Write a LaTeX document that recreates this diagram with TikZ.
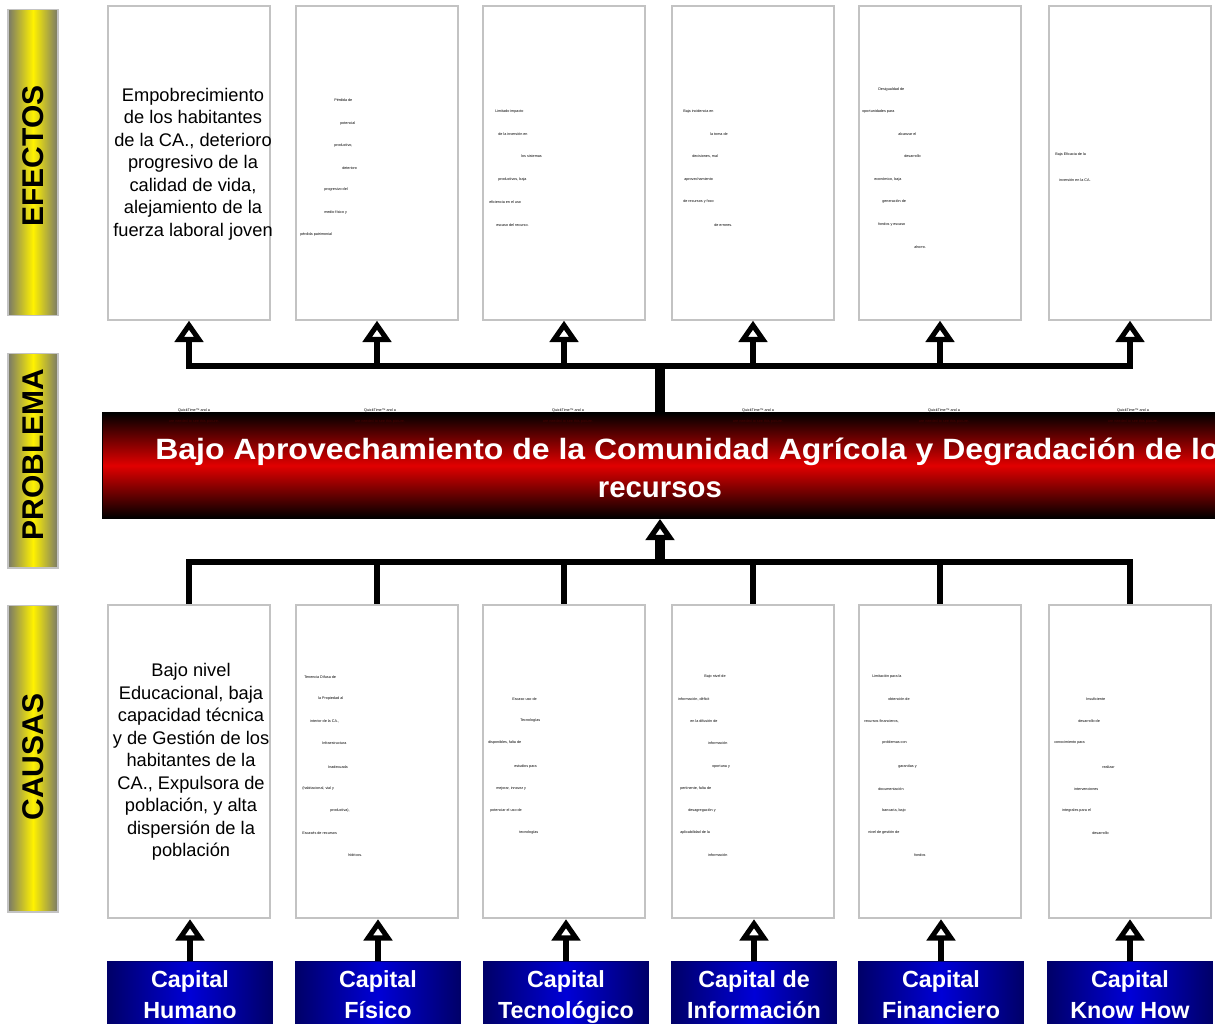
\documentclass[tikz,border=0pt]{standalone}
\usepackage{fontspec}
\setmainfont{Liberation Sans}
\usepackage{graphicx}
\usetikzlibrary{arrows.meta}

\definecolor{boxgray}{RGB}{195,195,195}
\definecolor{bargray}{RGB}{120,120,105}
\definecolor{baryellow}{RGB}{255,242,0}
\definecolor{probred}{RGB}{225,0,0}
\definecolor{qtred}{RGB}{70,0,0}
\definecolor{capblue}{RGB}{0,0,215}
\definecolor{capnavy}{RGB}{0,0,105}

\begin{document}
\begin{tikzpicture}
  [x=0.75pt,y=-0.75pt,
    textbox/.style={draw=boxgray,line width=1.5pt,fill=white,
      minimum width=122pt,minimum height=235pt,inner sep=0pt},
    bigtxt/.style={align=center,inner sep=0pt,font=\fontsize{13.7}{16.9}\selectfont},
    tinytxt/.style={anchor=west,inner sep=0pt,font=\fontsize{2.8}{3}\selectfont},
    sidebar/.style={draw=boxgray,line width=1pt,left color=bargray,right color=bargray,
      middle color=baryellow,minimum width=37.5pt,inner sep=0pt},
    sidetxt/.style={rotate=90,inner sep=0pt,font=\fontsize{22.5}{26}\bfseries\selectfont},
    probbox/.style={draw=black,line width=1pt,top color=black,bottom color=black,
      middle color=probred,minimum width=836pt,minimum height=79pt,inner sep=0pt},
    capbox/.style={draw=capnavy,line width=1pt,left color=capnavy,right color=capnavy,
      middle color=capblue,minimum width=123pt,minimum height=53pt,inner sep=0pt,
      text=white,align=center,font=\fontsize{17.5}{23.2}\bfseries\selectfont,
      execute at end node=\vphantom{g}},
    bar/.style={line width=4.5pt},
    trunk/.style={line width=7pt},
    uparrow/.style={line width=3.8pt,-{Triangle[open,length=16pt,width=21pt]}},
  ]
  \useasboundingbox (0,0) rectangle (1215,1024);
  \clip (0,0) rectangle (1215,1024);

  % side labels
  \node[sidebar,minimum height=229pt] (lblef) at (33,162.5) {};
  \node[sidetxt] (lblef-t) at ([yshift=5pt]lblef.center) {EFECTOS};
  \node[sidebar,minimum height=161pt] (lblprob) at (33,460.5) {};
  \node[sidetxt] (lblprob-t) at ([yshift=4.5pt]lblprob.center) {PROBLEMA};
  \node[sidebar,minimum height=230pt] (lblca) at (33,758.5) {};
  \node[sidetxt] (lblca-t) at ([yshift=1pt]lblca.center) {CAUSAS};

  % effect and cause boxes
  \foreach \x [count=\i] in {189,377,564,753,940,1130} {
    \node[textbox] (ef\i) at (\x,163) {};
    \node[textbox] (ca\i) at (\x,761.5) {};
  }

  % problem band
  \node[probbox] (prob) at (660,465.5) {};
  \node[anchor=west,inner sep=0pt,align=left,text=white,
    font=\fontsize{22}{29}\bfseries\selectfont] (probtxt) at (155,468)
    {\scalebox{1.09}[1]{Bajo Aprovechamiento de la Comunidad Agrícola y Degradación de los}\\
     \hspace*{332pt}recursos};
  \foreach \x [count=\i] in {194,380,568,758,944,1133} {
    \node[inner sep=0pt,font=\fontsize{2.8}{3}\selectfont] (qt\i) at (\x,410.5) {QuickTime™ and a};
    \node[inner sep=0pt,text=qtred,font=\fontsize{2.8}{3}\selectfont] (qtb\i) at (\x,422) {are needed to see this picture.};
  }

  % capital boxes
  \node[capbox] (cap1) at (190,997) {Capital\\Humano};
  \node[capbox] (cap2) at (378,997) {Capital\\Físico};
  \node[capbox] (cap3) at (566,997) {Capital\\Tecnológico};
  \node[capbox] (cap4) at (754,997) {Capital de\\Información};
  \node[capbox] (cap5) at (941,997) {Capital\\Financiero};
  \node[capbox] (cap6) at (1130,997) {Capital\\Know How};

  % large texts, cut by their boxes
  \begin{scope}
    \clip (ef1.north west) rectangle (ef1.south east);
    \node[bigtxt] (ef1-t) at (193,164) {Empobrecimiento\\de los habitantes\\de la CA., deterioro\\progresivo de la\\calidad de vida,\\alejamiento de la\\fuerza laboral joven};
  \end{scope}
  \begin{scope}
    \clip (ca1.north west) rectangle (ca1.south east);
    \node[bigtxt] (ca1-t) at (191,762) {Bajo nivel\\Educacional, baja\\capacidad técnica\\y de Gestión de los\\habitantes de la\\CA., Expulsora de\\población, y alta\\dispersión de la\\población};
  \end{scope}

  % small texts
  \foreach \x/\y/\t [count=\k] in {334/100/{Pérdida de},340/124/potencial,
      334/146/{productivo,},342/168/deterioro,324/190/{progresivo del},
      324/213/{medio físico y},300/235/{pérdida patrimonial}}
    \node[tinytxt] (ef2-\k) at (\x,\y) {\t};
  \foreach \x/\y/\t [count=\k] in {495/112/{Limitado impacto},498/134/{de la inversión en},
      521/156/{los sistemas},498/180/{productivos, baja},489/202/{eficiencia en el uso},
      496/225/{escaso del recurso.}}
    \node[tinytxt] (ef3-\k) at (\x,\y) {\t};
  \foreach \x/\y/\t [count=\k] in {683/112/{Baja incidencia en},710/134/{la toma de},
      692/156/{decisiones, mal},684/180/aprovechamiento,683/202/{de recursos y foco},
      714/225/{de errores.}}
    \node[tinytxt] (ef4-\k) at (\x,\y) {\t};
  \foreach \x/\y/\t [count=\k] in {878/90/{Desigualdad de},862/112/{oportunidades para},
      898/134/{alcanzar el},904/156/desarrollo,874/180/{económico, baja},
      882/202/{generación de},878/225/{fondos y escaso},914/247/{ahorro.}}
    \node[tinytxt] (ef5-\k) at (\x,\y) {\t};
  \foreach \x/\y/\t [count=\k] in {1055/155/{Baja Eficacia de la},1059/180/{inversión en la CA.}}
    \node[tinytxt] (ef6-\k) at (\x,\y) {\t};

  \foreach \x/\y/\t [count=\k] in {304/677/{Tenencia Difusa de},318/699/{la Propiedad al},
      310/721/{interior de la CA.,},322/743/Infraestructura,328/767/Inadecuada,
      302/789/{(habitacional, vial y},330/811/{productiva),},302/833/{Escasés de recursos},
      348/855/{hídricos.}}
    \node[tinytxt] (ca2-\k) at (\x,\y) {\t};
  \foreach \x/\y/\t [count=\k] in {512/699/{Escaso uso de},520/721/Tecnologías,
      488/743/{disponibles, falta de},514/767/{estudios para},496/789/{mejorar, innovar y},
      490/811/{potenciar el uso de},519/833/tecnologías}
    \node[tinytxt] (ca3-\k) at (\x,\y) {\t};
  \foreach \x/\y/\t [count=\k] in {704/677/{Bajo nivel de},678/699/{información, déficit},
      690/721/{en la difusión de},708/743/información,712/767/{oportuna y},
      680/789/{pertinente, falta de},688/811/{desagregación y},680/833/{aplicabilidad de la},
      708/855/información}
    \node[tinytxt] (ca4-\k) at (\x,\y) {\t};
  \foreach \x/\y/\t [count=\k] in {872/677/{Limitación para la},888/699/{obtención de},
      864/721/{recursos financieros,},882/743/{problemas con},898/767/{garantías y},
      878/789/documentación,882/811/{bancaria, bajo},868/833/{nivel de gestión de},
      914/855/fondos}
    \node[tinytxt] (ca5-\k) at (\x,\y) {\t};
  \foreach \x/\y/\t [count=\k] in {1086/699/Insuficiente,1078/721/{desarrollo de},
      1054/743/{conocimiento para},1102/767/realizar,1074/789/intervenciones,
      1062/811/{integrales para el},1092/833/desarrollo}
    \node[tinytxt] (ca6-\k) at (\x,\y) {\t};

  % connectors
  \coordinate (bartop) at (660,366);
  \coordinate (barbot) at (660,562);
  \draw[trunk] (prob.north) -- (bartop);
  \draw[bar] ([xshift=-2pt]ef1.south |- bartop) -- ([xshift=2pt]ef6.south |- bartop);
  \draw[bar] ([xshift=-2pt]ca1.north |- barbot) -- ([xshift=2pt]ca6.north |- barbot);
  \draw[trunk,-{Triangle[open,length=16pt,width=21pt]}] (barbot) -- (prob.south);
  \foreach \i in {1,...,6} {
    \draw[uparrow] (ef\i.south |- bartop) -- (ef\i.south);
    \draw[bar] (ca\i.north |- barbot) -- (ca\i.north);
    \draw[uparrow] (cap\i.north) -- (cap\i.north |- ca\i.south);
  }
\end{tikzpicture}
\end{document}
